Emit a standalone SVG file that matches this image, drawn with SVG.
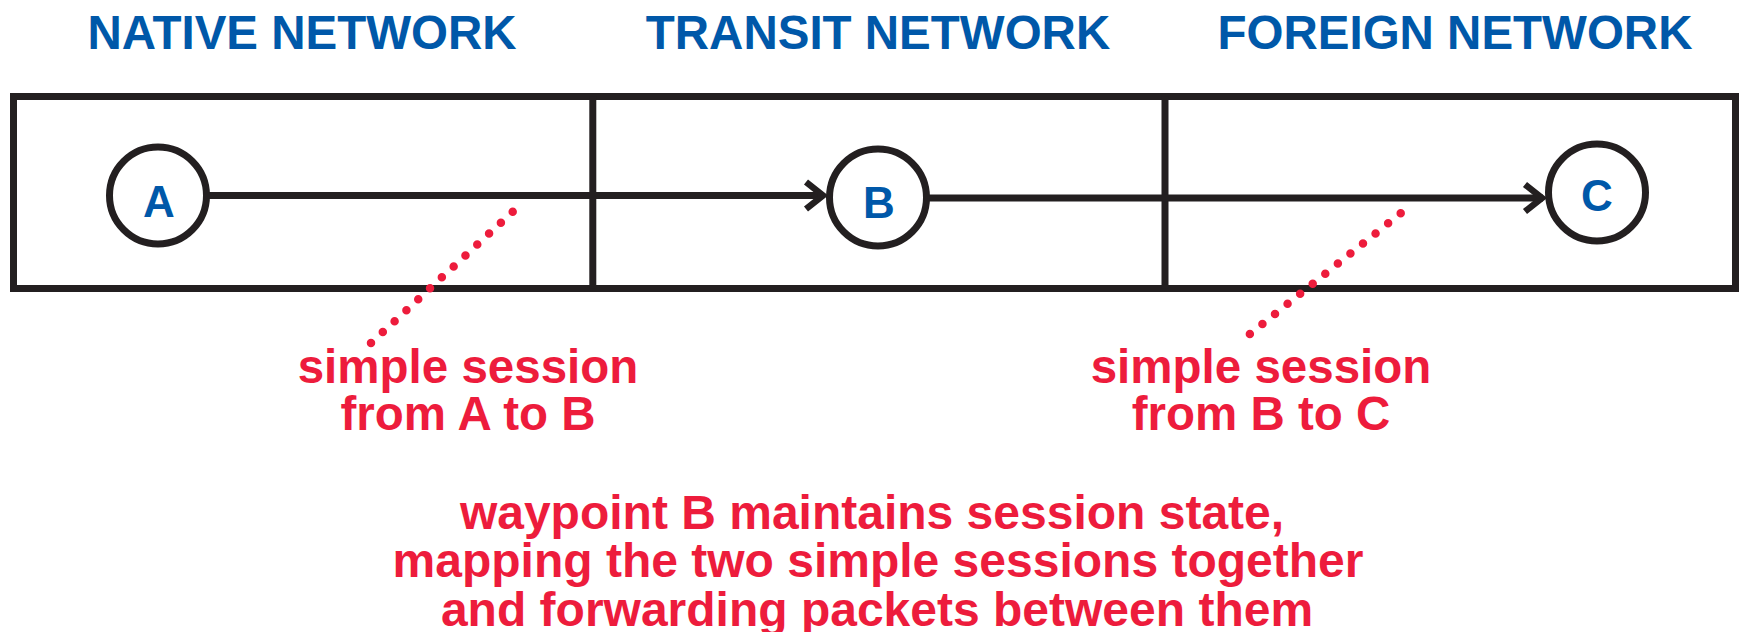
<svg xmlns="http://www.w3.org/2000/svg" width="1740" height="632" viewBox="0 0 1740 632">
  <style>
    .frame { fill: none; stroke: #231f20; stroke-width: 7; }
    .node { fill: #ffffff; stroke: #231f20; stroke-width: 7; }
    .link { fill: none; stroke: #231f20; stroke-width: 7; }
    .head { fill: none; stroke: #231f20; stroke-width: 6.5; stroke-linejoin: miter; stroke-miterlimit: 10; }
    .dots { fill: none; stroke: #ed1c3c; stroke-width: 8.5; stroke-linecap: round; stroke-dasharray: 0 16.1; }
    .title { font-family: "Liberation Sans", Arial, sans-serif; font-weight: bold; font-size: 47.5px; fill: #0058a9; text-anchor: middle; }
    .letter { font-family: "Liberation Sans", Arial, sans-serif; font-weight: bold; font-size: 44px; fill: #0058a9; text-anchor: middle; }
    .note { font-family: "Liberation Sans", Arial, sans-serif; font-weight: bold; font-size: 47.5px; fill: #ed1c3c; text-anchor: middle; }
    .caption { font-family: "Liberation Sans", Arial, sans-serif; font-weight: bold; font-size: 48px; fill: #ed1c3c; text-anchor: middle; }
  </style>

  <!-- network headings -->
  <g id="headings">
    <text class="title" x="302" y="48.7">NATIVE NETWORK</text>
    <text class="title" x="878" y="48.7">TRANSIT NETWORK</text>
    <text class="title" x="1455" y="48.7">FOREIGN NETWORK</text>
  </g>

  <!-- three network zones -->
  <g id="zones">
    <rect class="frame" x="13.5" y="96.5" width="1722" height="192"/>
    <line class="frame" x1="592.8" y1="96.5" x2="592.8" y2="288.5"/>
    <line class="frame" x1="1165" y1="96.5" x2="1165" y2="288.5"/>
  </g>

  <!-- sessions and callout leaders -->
  <g id="connectors">
    <line class="link" x1="206" y1="195.5" x2="823" y2="195.5"/>
    <path class="head" d="M806,182 L823,195.5 L806,209"/>
    <line class="link" x1="929" y1="198" x2="1543" y2="198"/>
    <path class="head" d="M1525,184.5 L1542,198 L1525,211.5"/>
    <line class="dots" x1="512.7" y1="211.7" x2="370.7" y2="343.3"/>
    <line class="dots" x1="1400.7" y1="213.3" x2="1238.3" y2="343.3"/>
  </g>

  <g id="node-a">
    <circle class="node" cx="158" cy="195.5" r="48.5"/>
    <text class="letter" x="159" y="216.5">A</text>
  </g>
  <g id="node-b">
    <circle class="node" cx="878" cy="197.5" r="48.5"/>
    <text class="letter" x="879" y="217.5">B</text>
  </g>
  <g id="node-c">
    <circle class="node" cx="1597" cy="192.5" r="48.5"/>
    <text class="letter" x="1597" y="210.5">C</text>
  </g>

  <g id="label-ab">
    <text class="note" x="468" y="382.7">simple session</text>
    <text class="note" x="468" y="430">from A to B</text>
  </g>
  <g id="label-bc">
    <text class="note" x="1261" y="382.7">simple session</text>
    <text class="note" x="1261" y="430">from B to C</text>
  </g>

  <g id="caption">
    <text class="caption" x="872" y="529.3">waypoint B maintains session state,</text>
    <text class="caption" x="878" y="577.3">mapping the two simple sessions together</text>
    <text class="caption" x="877" y="625.7">and forwarding packets between them</text>
  </g>
</svg>
